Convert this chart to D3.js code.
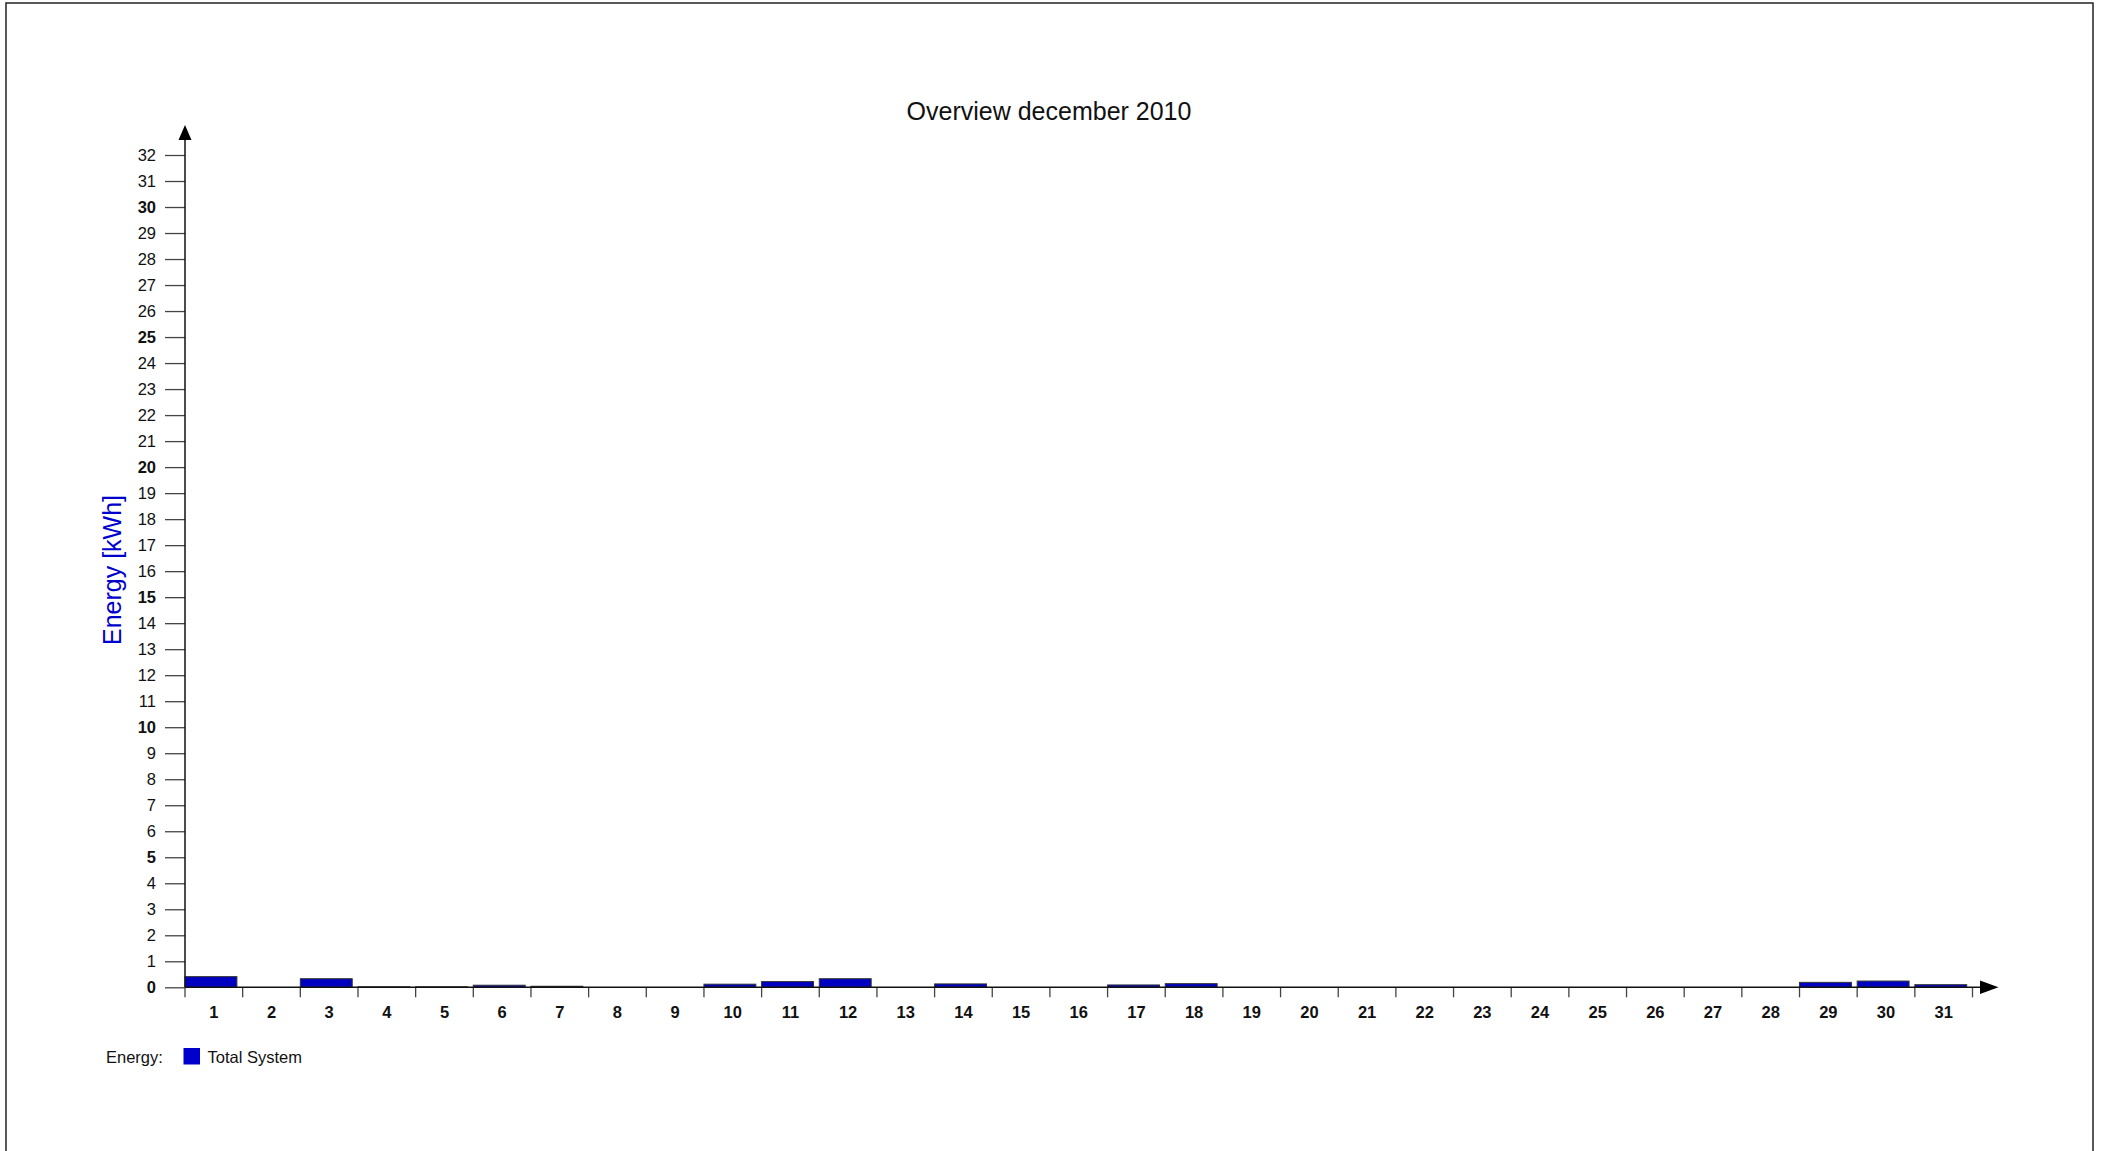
<!DOCTYPE html>
<html>
<head>
<meta charset="utf-8">
<script src="https://cdn.jsdelivr.net/npm/d3@7"></script>
<style>
  html, body { margin: 0; padding: 0; background: #fff; }
  svg { display: block; font-family: "Liberation Sans", Arial, sans-serif; }
</style>
</head>
<body>
<script>
// ---- data ----
const title = "Overview december 2010";
const yLabel = "Energy [kWh]";
const days = d3.range(1, 32).map(String);
const energy = [0.41, 0, 0.33, 0.02, 0.02, 0.08, 0.04, 0, 0, 0.12,
                0.22, 0.33, 0, 0.13, 0, 0, 0.09, 0.14, 0, 0,
                0, 0, 0, 0, 0, 0, 0, 0, 0.19, 0.24, 0.10];
const yTicks = d3.range(0, 33);
const legendTitle = "Energy:";
const seriesName = "Total System";

// ---- layout ----
const W = 2103, H = 1151;
const x0 = 185, x1 = 1972.5, yBase = 987.3, yTop = 155;

const svg = d3.select("body").append("svg").attr("width", W).attr("height", H);

// border
svg.append("rect").attr("x", 6).attr("y", 3).attr("width", 2087).attr("height", H + 10)
  .attr("fill", "none").attr("stroke", "#222").attr("stroke-width", 1.5);

const x = d3.scaleBand().domain(days).range([x0, x1]).paddingInner(0).paddingOuter(0);
const y = d3.scaleLinear().domain([0, 32]).range([yBase, yTop]);

// title
svg.append("text").attr("x", 1049).attr("y", 120).attr("text-anchor", "middle")
  .attr("font-size", 25).attr("fill", "#111").text(title);

// y axis label
svg.append("text").attr("transform", "translate(121,570) rotate(-90)")
  .attr("text-anchor", "middle").attr("font-size", 25).attr("fill", "#0000cc").text(yLabel);

// bars
svg.append("g").selectAll("rect").data(days.map((d, i) => ({ d, v: energy[i] })).filter(o => o.v > 0))
  .join("rect")
  .attr("x", o => x(o.d))
  .attr("y", o => y(o.v))
  .attr("width", x.bandwidth() * 0.9)
  .attr("height", o => yBase - y(o.v))
  .attr("fill", "#0000c0").attr("stroke", "#333").attr("stroke-width", 1);

// y axis ticks
const yAxis = d3.axisLeft(y).tickValues(yTicks).tickSize(20).tickPadding(9).tickFormat(d3.format("d"));
const gy = svg.append("g").attr("transform", `translate(${x0},0)`).call(yAxis);
gy.select(".domain").remove();
gy.selectAll(".tick line").attr("stroke", "#444").attr("stroke-width", 1.3);
gy.selectAll(".tick text").attr("font-size", 16.5).attr("fill", "#111")
  .attr("font-family", "Liberation Sans, Arial, sans-serif")
  .attr("font-weight", d => d % 5 === 0 ? "bold" : "normal");

// x axis: ticks at band boundaries, labels at centers
const gx = svg.append("g");
const edges = days.map(d => x(d)).concat([x1]);
gx.selectAll("line.edge").data(edges).join("line").attr("class", "edge")
  .attr("x1", d => d).attr("x2", d => d).attr("y1", yBase).attr("y2", yBase + 10)
  .attr("stroke", "#444").attr("stroke-width", 1.3);
gx.selectAll("text").data(days).join("text")
  .attr("x", d => x(d) + x.bandwidth() / 2).attr("y", 1018)
  .attr("text-anchor", "middle").attr("font-size", 16.5).attr("font-weight", "bold").attr("fill", "#111")
  .text(d => d);

// axis lines with arrows
svg.append("line").attr("x1", x0).attr("x2", x0).attr("y1", yBase).attr("y2", 138)
  .attr("stroke", "#111").attr("stroke-width", 1.5);
svg.append("path").attr("d", `M${x0},125 L${x0 - 6.5},140 L${x0 + 6.5},140 Z`).attr("fill", "#000");
svg.append("line").attr("x1", x0).attr("x2", 1982).attr("y1", yBase).attr("y2", yBase)
  .attr("stroke", "#111").attr("stroke-width", 1.5);
svg.append("path").attr("d", `M1998.5,${yBase} L1980,${yBase - 6.7} L1980,${yBase + 6.7} Z`).attr("fill", "#000");

// legend
svg.append("text").attr("x", 106).attr("y", 1062.5).attr("font-size", 16.5).attr("fill", "#111").text(legendTitle);
svg.append("rect").attr("x", 183.5).attr("y", 1048).attr("width", 16.5).attr("height", 16.5).attr("fill", "#0000cc");
svg.append("text").attr("x", 207.5).attr("y", 1062.5).attr("font-size", 16.5).attr("fill", "#111").text(seriesName);
</script>
</body>
</html>
